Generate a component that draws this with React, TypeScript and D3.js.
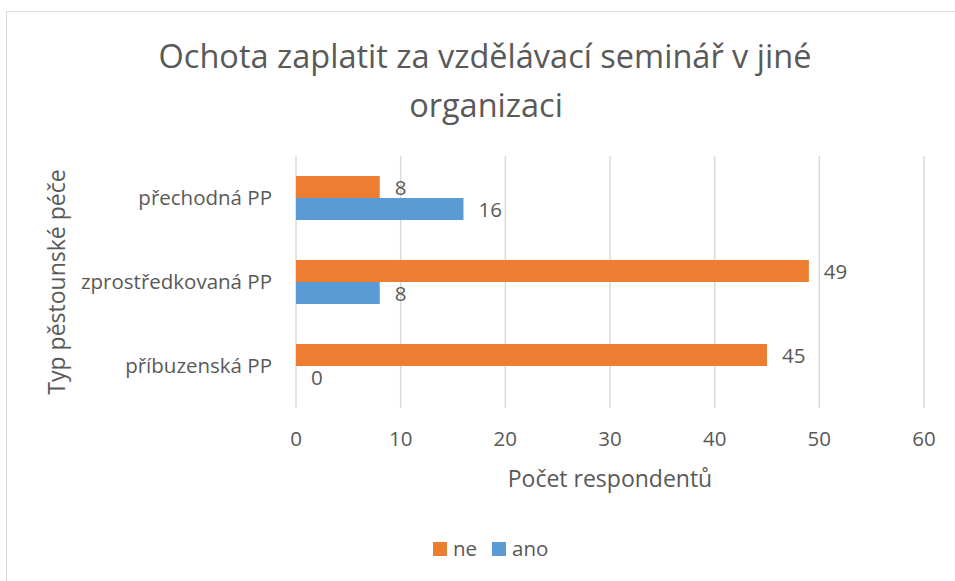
import React from "react";
import * as d3 from "d3";

// data
const categories = ["přechodná PP", "zprostředkovaná PP", "příbuzenská PP"];
const seriesNames = ["ne", "ano"];
const neValues = [8, 49, 45];
const anoValues = [16, 8, 0];
const xTicks = [0, 10, 20, 30, 40, 50, 60];

const colors: Record<string, string> = { ne: "#ED7D31", ano: "#5B9BD5" };
const textColor = "#595959";
const font = "'Open Sans', 'Noto Sans', sans-serif";

const W = 955;
const H = 581;
const labelSize = 20.5;
const axisTitleSize = 23;

const App = () => {
  const x = d3.scaleLinear().domain([0, 60]).range([296, 924]);
  const y = d3.scaleBand<string>().domain(categories).range([156, 408]).padding(0);
  const ySub = d3
    .scaleBand<string>()
    .domain(seriesNames)
    .range([0, y.bandwidth()])
    .paddingInner(0)
    .paddingOuter(0.909);

  const rows = categories.map((c, i) => ({
    category: c,
    values: [
      { key: "ne", value: neValues[i] },
      { key: "ano", value: anoValues[i] },
    ],
  }));

  return (
    <svg
      width={W}
      height={H}
      style={{ position: "absolute", left: 0, top: 0, background: "#fff" }}
      fontFamily={font}
    >
      {/* chart frame */}
      <rect x={6.5} y={11.5} width={960} height={600} fill="#fff" stroke="#D9D9D9" strokeWidth={1} />

      {/* title */}
      <text x={485} y={68} textAnchor="middle" fontSize={32.5} fill={textColor}>
        Ochota zaplatit za vzdělávací seminář v jiné
      </text>
      <text x={486} y={117} textAnchor="middle" fontSize={32.5} fill={textColor}>
        organizaci
      </text>

      {/* gridlines + tick labels */}
      <g>
        {xTicks.map((t) => (
          <line
            key={t}
            x1={x(t)}
            x2={x(t)}
            y1={156}
            y2={408}
            stroke="#D9D9D9"
            strokeWidth={1.5}
          />
        ))}
        {xTicks.map((t) => (
          <text key={"t" + t} x={x(t)} y={446} textAnchor="middle" fontSize={labelSize} fill={textColor}>
            {t}
          </text>
        ))}
      </g>

      {/* bars */}
      <g>
        {rows.map((r) =>
          r.values.map((v) => {
            const by = (y(r.category) as number) + (ySub(v.key) as number);
            return (
              <g key={r.category + v.key}>
                <rect
                  x={x(0)}
                  y={by}
                  width={x(v.value) - x(0)}
                  height={ySub.bandwidth()}
                  fill={colors[v.key]}
                />
                <text
                  x={x(v.value) + 15}
                  y={by + ySub.bandwidth() / 2 + 8}
                  fontSize={labelSize}
                  fill={textColor}
                >
                  {v.value}
                </text>
              </g>
            );
          })
        )}
      </g>

      {/* category labels */}
      <g>
        {categories.map((c) => (
          <text
            key={c}
            x={272}
            y={(y(c) as number) + y.bandwidth() / 2 + 7}
            textAnchor="end"
            fontSize={labelSize}
            fill={textColor}
          >
            {c}
          </text>
        ))}
      </g>

      {/* axis titles */}
      <text
        transform={`translate(65,282) rotate(-90)`}
        textAnchor="middle"
        fontSize={axisTitleSize}
        fill={textColor}
      >
        Typ pěstounské péče
      </text>
      <text x={610} y={487} textAnchor="middle" fontSize={axisTitleSize} fill={textColor}>
        Počet respondentů
      </text>

      {/* legend */}
      <g>
        {seriesNames.map((s, i) => {
          const lx = [433, 492][i];
          return (
            <g key={s}>
              <rect x={lx} y={542} width={14} height={14} fill={colors[s]} />
              <text x={lx + 20} y={556} fontSize={labelSize} fill={textColor}>
                {s}
              </text>
            </g>
          );
        })}
      </g>
    </svg>
  );
};

export default App;
